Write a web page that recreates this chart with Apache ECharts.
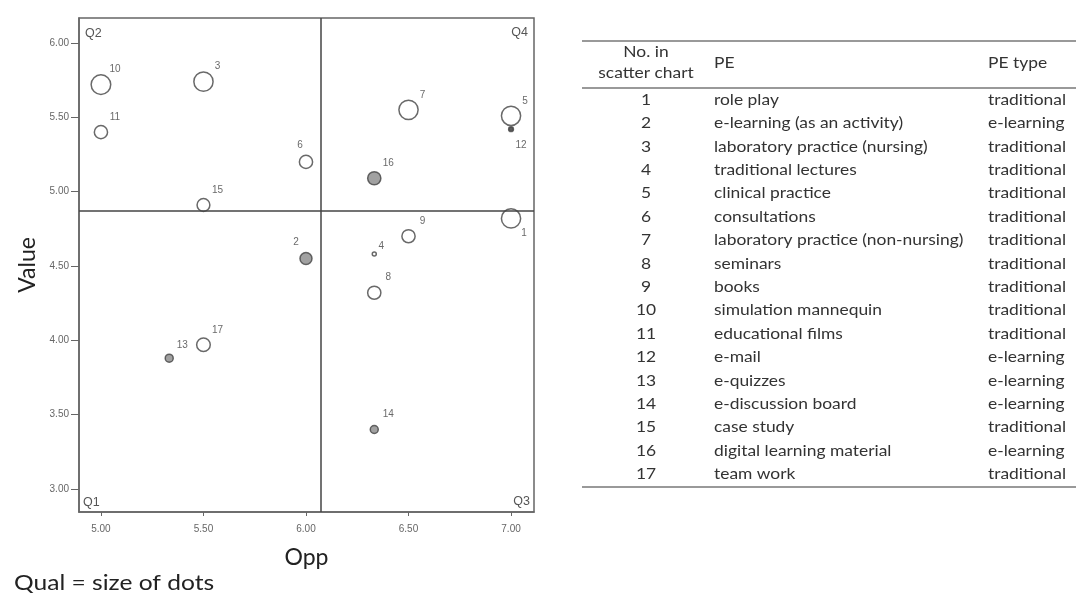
<!DOCTYPE html>
<html>
<head>
<meta charset="utf-8">
<script src="https://cdn.jsdelivr.net/npm/echarts@6/dist/echarts.min.js"></script>
<style>
html,body{margin:0;padding:0;background:#fff;}
#chart{width:1081px;height:601px;}
</style>
</head>
<body>
<div id="chart"></div>
<script>
// ---- data ----
var nums   = [1,2,3,4,5,6,7,8,9,10,11,12,13,14,15,16,17];
var opp    = [7.00,6.00,5.50,6.333,7.00,6.00,6.50,6.333,6.50,5.00,5.00,7.00,5.333,6.333,5.50,6.333,5.50];
var value  = [4.82,4.55,5.74,4.58,5.51,5.20,5.55,4.32,4.70,5.72,5.40,5.42,3.88,3.40,4.91,5.09,3.97];
var qual   = [5.90,5.00,5.90,4.00,5.90,5.15,5.90,5.15,5.15,5.95,5.15,4.10,4.50,4.50,5.10,5.15,5.20];
var peNames = ["role play","e-learning (as an activity)","laboratory practice (nursing)","traditional lectures",
  "clinical practice","consultations","laboratory practice (non-nursing)","seminars","books",
  "simulation mannequin","educational films","e-mail","e-quizzes","e-discussion board","case study",
  "digital learning material","team work"];
var peTypes = ["traditional","e-learning","traditional","traditional","traditional","traditional","traditional",
  "traditional","traditional","traditional","traditional","e-learning","e-learning","e-learning",
  "traditional","e-learning","traditional"];
var xTicks = [5.00,5.50,6.00,6.50,7.00];
var yTicks = [3.00,3.50,4.00,4.50,5.00,5.50,6.00];
var oppCut = 6.07, valueCut = 4.87;
var quadrantNames = ["Q1","Q2","Q3","Q4"];

// ---- styles ----
var labelOffsets = {6:[-6,-17], 2:[-10,-16], 12:[10,16], 1:[13,15], 4:[7,-8], 13:[13,-13]};
function sizeOf(q){ return (q - 3.5) * 8; }

var points = nums.map(function(n, i){
  var el = peTypes[i] === 'e-learning';
  return {
    value: [opp[i], value[i], qual[i], n],
    itemStyle: {
      color: el ? (n === 12 ? '#333' : '#8a8a8a') : '#ffffff',
      borderColor: '#444',
      borderWidth: 1.5
    },
    label: { offset: labelOffsets[n] || [14,-15] }
  };
});

var chart = echarts.init(document.getElementById('chart'));

var gridL = 79, gridT = 18, gridR = 534, gridB = 512;
var fontT = 'Lato, "Open Sans", sans-serif';
var graphics = [];
// quadrant labels
var qStyle = {fontSize: 12.5, fill: '#555', fontFamily: 'Liberation Sans, sans-serif'};
graphics.push({type:'text', x: 83, y: 496, style: Object.assign({text: quadrantNames[0], textAlign:'left'}, qStyle)});
graphics.push({type:'text', x: 85, y: 27, style: Object.assign({text: quadrantNames[1], textAlign:'left'}, qStyle)});
graphics.push({type:'text', x: 530, y: 495, style: Object.assign({text: quadrantNames[2], textAlign:'right'}, qStyle)});
graphics.push({type:'text', x: 528, y: 26, style: Object.assign({text: quadrantNames[3], textAlign:'right'}, qStyle)});
// caption
graphics.push({type:'text', x: 14, y: 583, scaleX: 1.17,
  style:{text:'Qual = size of dots', fontSize: 21, fill:'#222', fontFamily: fontT, textVerticalAlign:'middle'}});

// table
var tX0 = 582, tX1 = 1076;
var colNo = 646, colPE = 714, colType = 988;
var rule = {stroke:'#777', lineWidth:1.5};
graphics.push({type:'line', shape:{x1:tX0,y1:41,x2:tX1,y2:41}, style:rule});
graphics.push({type:'line', shape:{x1:tX0,y1:88,x2:tX1,y2:88}, style:rule});
graphics.push({type:'line', shape:{x1:tX0,y1:487,x2:tX1,y2:487}, style:rule});
var tStyle = {fontSize: 15, fill:'#333', fontFamily: fontT, textVerticalAlign:'middle'};
var sx = 1.16;
function tText(x, y, txt, align){
  graphics.push({type:'text', x: x, y: y, scaleX: sx, style: Object.assign({}, tStyle, {text: txt, textAlign: align})});
}
tText(colNo, 52, 'No. in', 'center');
tText(colNo, 73, 'scatter chart', 'center');
tText(colPE, 63, 'PE', 'left');
tText(colType, 63, 'PE type', 'left');
nums.forEach(function(n, i){
  var y = 100 + i * 23.4;
  tText(colNo, y, String(n), 'center');
  tText(colPE, y, peNames[i], 'left');
  tText(colType, y, peTypes[i], 'left');
});

chart.setOption({
  animation: false,
  backgroundColor: '#fff',
  grid: {left: gridL, top: gridT, width: gridR-gridL, height: gridB-gridT,
         show: true, borderColor: '#666', borderWidth: 1.5, backgroundColor: 'transparent'},
  xAxis: {
    type: 'value', min: 4.893, max: 7.112,
    name: 'Opp', nameLocation: 'middle', nameGap: 34,
    nameTextStyle: {fontSize: 23, color: '#222', fontFamily: fontT},
    axisLine: {show: true, lineStyle: {color: '#666', width: 1.5}},
    axisTick: {show: true, length: 4, customValues: xTicks, lineStyle: {color: '#666'}},
    axisLabel: {customValues: xTicks, margin: 12, fontSize: 10, color: '#666',
                fontFamily: 'Liberation Sans, sans-serif', formatter: function(v){ return v.toFixed(2); }},
    splitLine: {show: false}
  },
  yAxis: {
    type: 'value', min: 2.845, max: 6.168,
    name: 'Value', nameLocation: 'middle', nameGap: 40,
    nameTextStyle: {fontSize: 23, color: '#222', fontFamily: fontT},
    axisLine: {show: true, lineStyle: {color: '#666', width: 1.5}},
    axisTick: {show: true, length: 8, customValues: yTicks, lineStyle: {color: '#666'}},
    axisLabel: {customValues: yTicks, margin: 10, fontSize: 10, color: '#666',
                fontFamily: 'Liberation Sans, sans-serif', formatter: function(v){ return v.toFixed(2); }},
    splitLine: {show: false}
  },
  series: [{
    type: 'scatter',
    data: points,
    symbol: 'circle',
    symbolSize: function(v){ return sizeOf(v[2]); },
    label: {
      show: true, position: 'inside', fontSize: 10, color: '#444',
      fontFamily: 'Liberation Sans, sans-serif',
      formatter: function(p){ return String(p.value[3]); }
    },
    markLine: {
      silent: true, symbol: 'none',
      label: {show: false},
      lineStyle: {color: '#444', width: 1.5, type: 'solid'},
      data: [{xAxis: oppCut}, {yAxis: valueCut}]
    }
  }],
  graphic: graphics
});
</script>
</body>
</html>
